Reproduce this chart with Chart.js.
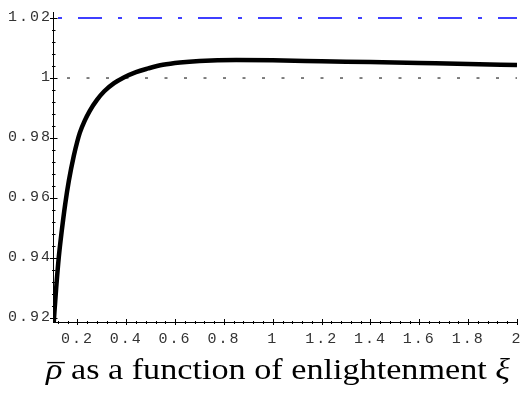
<!DOCTYPE html>
<html>
<head>
<meta charset="utf-8">
<script src="https://cdn.jsdelivr.net/npm/chart.js@4"></script>
<style>
  html, body { margin: 0; padding: 0; background: #fff; }
  #wrap { width: 522px; height: 397px; position: relative; }
</style>
</head>
<body>
<div id="wrap"><canvas id="myChart"></canvas></div>
<script>
// enlightenment xi and mean rho
var xi  = [0.1, 0.105, 0.113, 0.124, 0.135, 0.15, 0.165, 0.185, 0.2, 0.21, 0.23, 0.25, 0.28, 0.31, 0.35, 0.39, 0.44, 0.49, 0.55, 0.62, 0.7, 0.85, 1.0, 1.2, 1.4, 1.6, 1.8, 2.0];
var rho = [0.915, 0.921, 0.93, 0.9405, 0.9485, 0.958, 0.9658, 0.974, 0.979, 0.9818, 0.9858, 0.989, 0.9927, 0.9956, 0.9983, 1.0002, 1.002, 1.0032, 1.0044, 1.0052, 1.0057, 1.006, 1.0059, 1.0056, 1.0053, 1.005, 1.0047, 1.0043];

var xTicks = [0.2, 0.4, 0.6, 0.8, 1, 1.2, 1.4, 1.6, 1.8, 2];
var yTicks = [0.92, 0.94, 0.96, 0.98, 1, 1.02];
var xRange = [0.1, 2];
var yRange = [0.9187, 1.022];
var dottedLevel = 1;
var blueLevel = 1.02;
// caption pieces: symbol, text, symbol (the bar goes over the first one)
var caption = ['\u03C1', ' as a function of enlightenment ', '\u03BE'];
var bar = '\u00AF';

var tickFont = { family: "'Liberation Mono', monospace", size: 15 };

function minorTicks(majors, min, max) {
  var step = (majors[1] - majors[0]) / 5;
  var out = [];
  var v = majors[0] - Math.floor((majors[0] - min) / step + 1e-9) * step;
  for (; v <= max + 1e-9; v += step) {
    var isMajor = majors.some(function (m) { return Math.abs(m - v) < step / 10; });
    if (!isMajor && v >= min - 1e-9) out.push(v);
  }
  return out;
}

function levelLine(y) {
  return [{ x: xRange[0], y: y }, { x: xRange[1], y: y }];
}

var spacing = {
  id: 'spacing',
  beforeDraw: function (chart) { chart.ctx.letterSpacing = '2px'; }
};

var axisTicks = {
  id: 'axisTicks',
  afterDraw: function (chart) {
    var ctx = chart.ctx, a = chart.chartArea;
    var xs = chart.scales.x, ys = chart.scales.y;
    ctx.save();
    ctx.strokeStyle = '#000';
    ctx.lineWidth = 1;
    ctx.beginPath();
    var bx = Math.round(a.left) + 0.5, by = Math.round(a.bottom) + 0.5;
    yTicks.forEach(function (v) {
      var p = Math.round(ys.getPixelForValue(v)) + 0.5;
      ctx.moveTo(bx - 3.5, p); ctx.lineTo(bx + 4, p);
    });
    minorTicks(yTicks, yRange[0], yRange[1]).forEach(function (v) {
      var p = Math.round(ys.getPixelForValue(v)) + 0.5;
      ctx.moveTo(bx - 1.5, p); ctx.lineTo(bx + 2, p);
    });
    xTicks.forEach(function (v) {
      var p = Math.round(xs.getPixelForValue(v)) + 0.5;
      ctx.moveTo(p, by + 2.5); ctx.lineTo(p, by - 3.5);
    });
    minorTicks(xTicks, xRange[0], xRange[1]).forEach(function (v) {
      var p = Math.round(xs.getPixelForValue(v)) + 0.5;
      ctx.moveTo(p, by + 1.5); ctx.lineTo(p, by - 1.5);
    });
    ctx.stroke();
    ctx.restore();
  }
};

var captionPlugin = {
  id: 'captionPlugin',
  afterDraw: function (chart) {
    var ctx = chart.ctx;
    var fonts = [
      "italic 29px 'Liberation Serif', serif",
      "29px 'Liberation Serif', serif",
      "italic 29px 'Liberation Serif', serif"
    ];
    var left = 46, target = 464, baseline = 379;
    ctx.save();
    ctx.letterSpacing = '0px';
    ctx.fillStyle = '#000';
    ctx.textBaseline = 'alphabetic';
    ctx.textAlign = 'left';
    var widths = caption.map(function (t, i) { ctx.font = fonts[i]; return ctx.measureText(t).width; });
    var total = widths.reduce(function (s, w) { return s + w; }, 0);
    ctx.translate(left, baseline);
    ctx.scale(target / total, 1);
    var x = 0;
    caption.forEach(function (t, i) {
      ctx.font = fonts[i];
      ctx.fillText(t, x, 0);
      if (i === 0) {
        ctx.font = fonts[1];
        var bw = ctx.measureText(bar).width;
        ctx.fillText(bar, x + (widths[0] - bw) / 2 + 1.5, 5);
      }
      x += widths[i];
    });
    ctx.restore();
  }
};

var ctx = document.getElementById('myChart');

var myChart = new Chart(ctx, {
  type: 'line',
  data: {
    datasets: [{
      label: 'rho',
      data: xi.map(function (x, i) { return { x: x, y: rho[i] }; }),
      borderColor: '#000',
      borderWidth: 4.5,
      pointRadius: 0,
      cubicInterpolationMode: 'monotone',
      fill: false
    }, {
      label: 'one',
      data: levelLine(dottedLevel),
      borderColor: '#000',
      borderWidth: 1,
      borderDash: [3, 16.5],
      borderDashOffset: 5.5,
      pointRadius: 0,
      fill: false
    }, {
      label: 'upper',
      data: levelLine(blueLevel),
      borderColor: '#0000ff',
      borderWidth: 1.6,
      borderDash: [24, 16, 4, 16],
      borderDashOffset: 35,
      pointRadius: 0,
      fill: false
    }]
  },
  options: {
    responsive: true,
    maintainAspectRatio: false,
    animation: false,
    devicePixelRatio: 1,
    layout: { padding: { top: 12, right: 5, left: 0, bottom: 0 } },
    plugins: { legend: { display: false }, tooltip: { enabled: false }, title: { display: false } },
    scales: {
      x: {
        type: 'linear',
        min: xRange[0],
        max: xRange[1],
        afterBuildTicks: function (s) { s.ticks = xTicks.map(function (v) { return { value: v }; }); },
        afterFit: function (s) { s.height = 75; s.paddingLeft = 0; s.paddingRight = 0; },
        grid: { display: false, drawTicks: false },
        border: { display: true, color: '#000', width: 1 },
        ticks: {
          autoSkip: false, maxRotation: 0, padding: 8,
          color: '#333', font: tickFont,
          callback: function (v) { return String(v); }
        }
      },
      y: {
        type: 'linear',
        min: yRange[0],
        max: yRange[1],
        afterBuildTicks: function (s) { s.ticks = yTicks.map(function (v) { return { value: v }; }); },
        afterFit: function (s) { s.width = 53; s.paddingTop = 0; s.paddingBottom = 0; },
        grid: { display: false, drawTicks: false },
        border: { display: true, color: '#000', width: 1 },
        ticks: {
          autoSkip: false, padding: 1, labelOffset: -1,
          color: '#333', font: tickFont,
          callback: function (v) { return String(v); }
        }
      }
    }
  },
  plugins: [spacing, axisTicks, captionPlugin]
});
</script>
</body>
</html>
